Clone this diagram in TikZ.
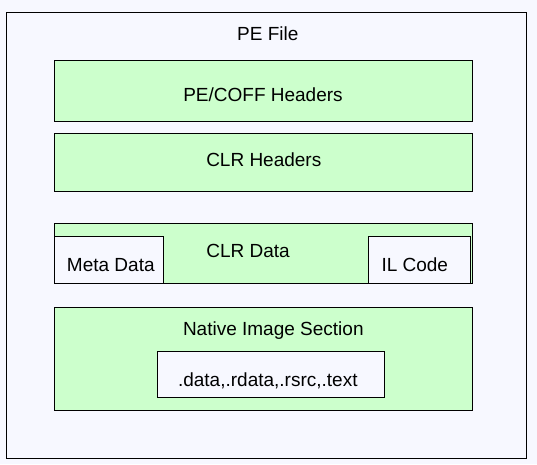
\documentclass[tikz,border=0pt]{standalone}
\usepackage{fontspec}
\setmainfont{Liberation Sans}
\usetikzlibrary{positioning}
\definecolor{pagebg}{HTML}{F7F8FF}
\definecolor{secgreen}{HTML}{CCFFCC}
\tikzset{
every node/.style={font=\fontsize{19}{23}\selectfont, inner sep=0pt}, % text of every node
section/.style={draw, line width=1pt, fill=secgreen, anchor=north west}, % green sections
part/.style={draw, line width=1pt, fill=pagebg, anchor=north west}, % light inner parts
caption/.style={anchor=base}, % labels sit on their base line
}
\begin{document}
\begin{tikzpicture}[x=1pt, y=-1pt]
\fill[pagebg] (0,0) rectangle (537,464);
\useasboundingbox (0,0) rectangle (537,464);
\node[part, minimum width=520pt, minimum height=446.5pt] (file) at (5.5,11.5) {};
\node[caption] (filetxt) at (267.8,40) {PE File};
\node[section, minimum width=417.5pt, minimum height=61pt] (pecoff) at (54,59.5) {};
\node[caption] (pecofftxt) at (263,101) {PE/COFF Headers};
\node[section, minimum width=417.5pt, minimum height=58.5pt] (clrhead) at (54,132.5) {};
\node[caption] (clrheadtxt) at (263.8,166.7) {CLR Headers};
\node[section, minimum width=417.5pt, minimum height=60pt] (clrdata) at (54,223) {};
\node[part, minimum width=108.5pt, minimum height=47.5pt] (meta) at (54,235.5) {};
\node[part, minimum width=102pt, minimum height=47.5pt] (ilcode) at (368,235.5) {};
\node[caption] (clrdatatxt) at (248,257.7) {CLR Data};
\node[caption] (metatxt) at (110.8,271.7) {Meta Data};
\node[caption] (ilcodetxt) at (414.8,271.7) {IL Code};
\node[section, minimum width=417.5pt, minimum height=103pt] (native) at (54,307) {};
\node[caption] (nativetxt) at (273.3,335.7) {Native Image Section};
\node[part, minimum width=227.5pt, minimum height=46pt] (sections) at (156.5,351) {};
\node[caption] (sectionstxt) at (267.8,386.7) {.data,.rdata,.rsrc,.text};
\end{tikzpicture}
\end{document}
